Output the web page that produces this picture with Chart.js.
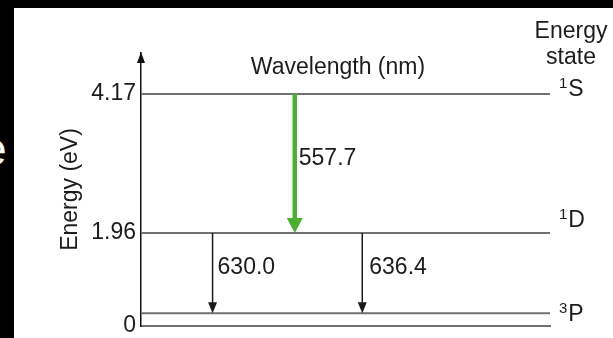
<!DOCTYPE html>
<html>
<head>
<meta charset="utf-8">
<script src="https://cdn.jsdelivr.net/npm/chart.js@4.4.1/dist/chart.umd.min.js"></script>
<style>
  html, body { margin: 0; padding: 0; background: #000; }
  #wrap { position: relative; width: 613px; height: 338px; background: #fff; overflow: hidden; }
  #bandTop { position: absolute; left: 0; top: 0; width: 613px; height: 8px; background: #000; }
  #bandLeft { position: absolute; left: 0; top: 0; width: 14px; height: 338px; background: #000; overflow: hidden; }
  #bandLeft span { position: absolute; left: -19px; top: 122px; line-height: 1; color: #fff; font: 46px "Liberation Sans", Arial, sans-serif; }
</style>
</head>
<body>
<div id="wrap">
  <canvas id="diagram"></canvas>
  <div id="bandTop"></div>
  <div id="bandLeft"><span>e</span></div>
</div>
<script>
// Energy levels (eV): term symbol = superscript multiplicity + letter
const levelSup = ['1', '1', '3'];
const levelTerm = ['S', 'D', 'P'];
const levelEnergies = [4.17, 1.96, 0.27];
const tickValues = [0, 1.96, 4.17];

// Transitions: wavelength labels, start and end levels
const transitionLabels = ['557.7', '630.0', '636.4'];
const transitionFrom = [4.17, 1.96, 1.96];
const transitionTo = [1.96, 0.27, 0.27];

// schematic (piecewise) energy axis: value -> fraction of axis height
const axisStops = [[0, 0], [1.96, 0.3407], [4.17, 0.8498], [4.82, 1]];

class SchematicScale extends Chart.LinearScale {
  getPixelForValue(value) {
    let d = 0;
    for (let i = 1; i < axisStops.length; i++) {
      const [v0, d0] = axisStops[i - 1];
      const [v1, d1] = axisStops[i];
      if (value <= v1 || i === axisStops.length - 1) {
        d = d0 + (value - v0) / (v1 - v0) * (d1 - d0);
        break;
      }
    }
    return this.getPixelForDecimal(d);
  }
}
SchematicScale.id = 'schematic';
SchematicScale.defaults = Chart.LinearScale.defaults;
Chart.register(SchematicScale);

const FAMILY = '"Liberation Sans", Arial, sans-serif';
const FONT = '23px ' + FAMILY;
const TEXT = '#1c1c1c';

const diagramPlugin = {
  id: 'diagram',
  afterDraw(chart, args, opts) {
    const { ctx, chartArea, scales: { x, y } } = chart;
    ctx.save();

    // arrowhead on the energy axis
    ctx.fillStyle = '#111';
    ctx.beginPath();
    ctx.moveTo(chartArea.left, chartArea.top - 1);
    ctx.lineTo(chartArea.left - 4, chartArea.top + 10);
    ctx.lineTo(chartArea.left + 4, chartArea.top + 10);
    ctx.closePath();
    ctx.fill();

    ctx.font = FONT;
    ctx.fillStyle = TEXT;
    ctx.textBaseline = 'middle';

    // transitions
    transitionLabels.forEach((label, i) => {
      const st = opts.styles[i];
      const px = x.getPixelForValue(opts.slots[i]);
      const y0 = y.getPixelForValue(transitionFrom[i]);
      const y1 = y.getPixelForValue(transitionTo[i]);
      ctx.strokeStyle = st.color;
      ctx.lineWidth = st.width;
      ctx.beginPath();
      ctx.moveTo(px, y0);
      ctx.lineTo(px, y1 - st.headH + 1);
      ctx.stroke();
      ctx.fillStyle = st.color;
      ctx.beginPath();
      ctx.moveTo(px, y1);
      ctx.lineTo(px - st.headW / 2, y1 - st.headH);
      ctx.lineTo(px + st.headW / 2, y1 - st.headH);
      ctx.closePath();
      ctx.fill();
      ctx.fillStyle = TEXT;
      ctx.textAlign = 'left';
      ctx.fillText(label, px + st.gap, (y0 + y1) / 2 - 5);
    });

    // level names on the right
    ctx.textAlign = 'left';
    ctx.textBaseline = 'alphabetic';
    levelTerm.forEach((term, i) => {
      const py = y.getPixelForValue(levelEnergies[i]) + opts.nameOffsets[i] + 8;
      const lx = chartArea.right + 9;
      ctx.font = '15px ' + FAMILY;
      ctx.fillText(levelSup[i], lx, py - 8);
      const w = ctx.measureText(levelSup[i]).width;
      ctx.font = FONT;
      ctx.fillText(term, lx + w + 1, py);
    });

    ctx.textBaseline = 'middle';
    ctx.textAlign = 'center';
    ctx.fillText('Energy', chartArea.right + 21, 32);
    ctx.fillText('state', chartArea.right + 21, 58);
    ctx.fillText('Wavelength (nm)', chartArea.left + 197, chartArea.top + 15);
    ctx.restore();
  }
};

const levelDatasets = levelEnergies.map((e, i) => ({
  label: levelSup[i] + levelTerm[i],
  data: [{ x: 0, y: e }, { x: 1, y: e }],
  borderColor: '#707070',
  borderWidth: 2,
  pointRadius: 0
}));

new Chart(document.getElementById('diagram'), {
  type: 'line',
  data: { datasets: levelDatasets },
  options: {
    responsive: true,
    maintainAspectRatio: false,
    animation: false,
    events: [],
    layout: { padding: { top: 53, right: 63, left: 0, bottom: 0 } },
    plugins: {
      legend: { display: false },
      tooltip: { enabled: false },
      diagram: {
        slots: [0.376, 0.175, 0.541],
        styles: [
          { color: '#4caf32', width: 4.5, headW: 16, headH: 15, gap: 4 },
          { color: '#1a1a1a', width: 1.5, headW: 9, headH: 11, gap: 5 },
          { color: '#1a1a1a', width: 1.5, headW: 9, headH: 11, gap: 7 }
        ],
        nameOffsets: [-6, -14, 0]
      }
    },
    scales: {
      x: {
        type: 'linear',
        min: 0,
        max: 1,
        grid: { display: false, drawTicks: false },
        ticks: { display: false },
        border: { display: true, color: '#707070', width: 2 },
        afterFit: s => { s.height = 12; s.paddingLeft = 0; s.paddingRight = 0; }
      },
      y: {
        type: 'schematic',
        min: 0,
        max: 4.82,
        grid: { display: false, drawTicks: false },
        border: { display: true, color: '#111', width: 1.5 },
        afterBuildTicks: s => { s.ticks = tickValues.map(v => ({ value: v })); },
        afterFit: s => { s.width = 141; s.paddingTop = 0; s.paddingBottom = 0; },
        ticks: {
          padding: 5,
          color: TEXT,
          font: { family: FAMILY, size: 23 },
          callback: v => (v === 0 ? '0' : v.toFixed(2))
        },
        title: {
          display: true,
          text: 'Energy (eV)',
          color: TEXT,
          font: { family: FAMILY, size: 23 },
          padding: { top: 57, bottom: 0 }
        }
      }
    }
  },
  plugins: [diagramPlugin]
});
</script>
</body>
</html>
